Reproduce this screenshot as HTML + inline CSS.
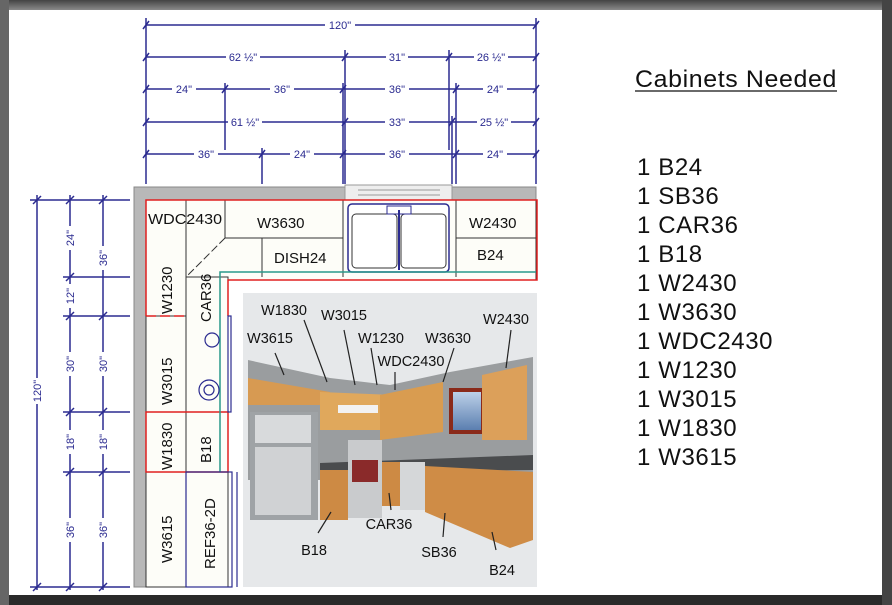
<!DOCTYPE html>
<html><head><meta charset="utf-8"><style>
html,body{margin:0;padding:0;width:892px;height:605px;overflow:hidden;background:#333}
svg{display:block}
.d{font-family:"Liberation Sans",sans-serif;font-size:11px;fill:#2b2b90}
.c{font-family:"Liberation Sans",sans-serif;font-size:15px;fill:#111}
.p{font-family:"Liberation Sans",sans-serif;font-size:14.5px;fill:#111}
.r{font-family:"Liberation Sans",sans-serif;font-size:24px;fill:#111;letter-spacing:0.6px}
</style></head><body>
<svg width="892" height="605" viewBox="0 0 892 605" xmlns="http://www.w3.org/2000/svg">
<defs>
<linearGradient id="gt" x1="0" y1="0" x2="0" y2="1"><stop offset="0" stop-color="#444"/><stop offset="1" stop-color="#8a8a8a"/></linearGradient>
<linearGradient id="sky" x1="0" y1="0" x2="0" y2="1"><stop offset="0" stop-color="#bcd0e8"/><stop offset="1" stop-color="#5b7fb0"/></linearGradient>
</defs>
<rect width="892" height="605" fill="#2a2a2a"/>
<rect x="0" y="0" width="892" height="10" fill="url(#gt)"/>
<rect x="0" y="0" width="9" height="605" fill="#666"/>
<rect x="882" y="0" width="10" height="605" fill="#444"/>
<rect x="9" y="10" width="873" height="585" fill="#fff"/>

<g stroke="#2b2b90" stroke-width="1.5" fill="none">
<line x1="146" y1="18" x2="146" y2="184"/><line x1="536" y1="18" x2="536" y2="184"/>
<line x1="345" y1="50" x2="345" y2="184"/><line x1="449" y1="50" x2="449" y2="150"/>
<line x1="225" y1="83" x2="225" y2="150"/><line x1="262" y1="148" x2="262" y2="184"/>
<line x1="343" y1="83" x2="343" y2="184"/><line x1="456" y1="83" x2="456" y2="184"/>
<line x1="452" y1="116" x2="452" y2="184"/>
<line x1="146" y1="25" x2="536" y2="25"/><line x1="146" y1="57" x2="536" y2="57"/>
<line x1="146" y1="89" x2="536" y2="89"/><line x1="146" y1="122" x2="536" y2="122"/>
<line x1="146" y1="154" x2="536" y2="154"/>
<path d="M143 29l6-8M533 29l6-8M143 61l6-8M342 61l6-8M446 61l6-8M533 61l6-8M143 93l6-8M222 93l6-8M340 93l6-8M453 93l6-8M533 93l6-8M143 126l6-8M342 126l6-8M449 126l6-8M533 126l6-8M143 158l6-8M259 158l6-8M340 158l6-8M453 158l6-8M533 158l6-8"/>
<line x1="37" y1="195" x2="37" y2="590"/><line x1="70" y1="195" x2="70" y2="590"/><line x1="103" y1="195" x2="103" y2="590"/>
<line x1="30" y1="200" x2="130" y2="200"/><line x1="63" y1="277" x2="130" y2="277"/><line x1="63" y1="316" x2="130" y2="316"/>
<line x1="63" y1="412" x2="130" y2="412"/><line x1="63" y1="472" x2="130" y2="472"/><line x1="30" y1="587" x2="130" y2="587"/>
<path d="M33 204l8-8M66 204l8-8M99 204l8-8M66 281l8-8M66 320l8-8M99 320l8-8M66 416l8-8M99 416l8-8M66 476l8-8M99 476l8-8M33 591l8-8M66 591l8-8M99 591l8-8"/>
</g>
<g class="d" text-anchor="middle">
<rect x="325" y="19" width="30" height="12" fill="#fff"/><text x="340" y="29">120"</text>
<rect x="226" y="51" width="34" height="12" fill="#fff"/><text x="243" y="61">62 ½"</text>
<rect x="386" y="51" width="22" height="12" fill="#fff"/><text x="397" y="61">31"</text>
<rect x="474" y="51" width="34" height="12" fill="#fff"/><text x="491" y="61">26 ½"</text>
<rect x="172" y="83" width="24" height="12" fill="#fff"/><text x="184" y="93">24"</text>
<rect x="270" y="83" width="24" height="12" fill="#fff"/><text x="282" y="93">36"</text>
<rect x="385" y="83" width="24" height="12" fill="#fff"/><text x="397" y="93">36"</text>
<rect x="483" y="83" width="24" height="12" fill="#fff"/><text x="495" y="93">24"</text>
<rect x="228" y="116" width="34" height="12" fill="#fff"/><text x="245" y="126">61 ½"</text>
<rect x="385" y="116" width="24" height="12" fill="#fff"/><text x="397" y="126">33"</text>
<rect x="477" y="116" width="34" height="12" fill="#fff"/><text x="494" y="126">25 ½"</text>
<rect x="194" y="148" width="24" height="12" fill="#fff"/><text x="206" y="158">36"</text>
<rect x="290" y="148" width="24" height="12" fill="#fff"/><text x="302" y="158">24"</text>
<rect x="385" y="148" width="24" height="12" fill="#fff"/><text x="397" y="158">36"</text>
<rect x="483" y="148" width="24" height="12" fill="#fff"/><text x="495" y="158">24"</text>
<g fill="#fff"><rect x="31" y="378" width="12" height="26"/><rect x="64" y="226" width="12" height="24"/><rect x="64" y="284" width="12" height="24"/><rect x="64" y="352" width="12" height="24"/><rect x="64" y="430" width="12" height="24"/><rect x="64" y="518" width="12" height="24"/><rect x="97" y="246" width="12" height="24"/><rect x="97" y="352" width="12" height="24"/><rect x="97" y="430" width="12" height="24"/><rect x="97" y="518" width="12" height="24"/></g>
<text transform="translate(41,391) rotate(-90)">120"</text>
<text transform="translate(74,238) rotate(-90)">24"</text>
<text transform="translate(74,296) rotate(-90)">12"</text>
<text transform="translate(74,364) rotate(-90)">30"</text>
<text transform="translate(74,442) rotate(-90)">18"</text>
<text transform="translate(74,530) rotate(-90)">36"</text>
<text transform="translate(107,258) rotate(-90)">36"</text>
<text transform="translate(107,364) rotate(-90)">30"</text>
<text transform="translate(107,442) rotate(-90)">18"</text>
<text transform="translate(107,530) rotate(-90)">36"</text>
</g>

<polygon points="134,187 536,187 536,200 146,200 146,587 134,587" fill="#b8b8b8" stroke="#888"/>
<rect x="345" y="185" width="107" height="15" fill="#eee" stroke="#999"/>
<line x1="358" y1="190" x2="440" y2="190" stroke="#999"/><line x1="358" y1="195" x2="440" y2="195" stroke="#999"/>
<g fill="#fdfdf8" stroke="#333" stroke-width="1">
<rect x="146" y="200" width="390" height="80"/>
<rect x="146" y="200" width="40" height="387"/>
<rect x="186" y="277" width="42" height="310"/>
</g>
<g stroke="#333" fill="none">
<line x1="225" y1="200" x2="225" y2="238"/><line x1="225" y1="238" x2="343" y2="238"/>
<line x1="262" y1="238" x2="262" y2="277"/><line x1="343" y1="200" x2="343" y2="277"/>
<line x1="456" y1="200" x2="456" y2="277"/><line x1="456" y1="238" x2="536" y2="238"/>
<line x1="225" y1="238" x2="186" y2="277" stroke-dasharray="8,3"/>
<line x1="146" y1="316" x2="186" y2="316"/><line x1="146" y1="412" x2="228" y2="412"/>
<line x1="146" y1="472" x2="228" y2="472"/>
</g>
<rect x="348" y="204" width="101" height="68" rx="4" fill="#fff" stroke="#2b2b90" stroke-width="1.5"/>
<rect x="352" y="214" width="45" height="54" rx="4" fill="#fff" stroke="#333"/><rect x="401" y="214" width="45" height="54" rx="4" fill="#fff" stroke="#333"/>
<rect x="387" y="206" width="24" height="8" fill="#fff" stroke="#2b2b90"/>
<line x1="399" y1="210" x2="399" y2="270" stroke="#2b2b90" stroke-width="2"/>
<g fill="none" stroke="#e02020" stroke-width="1.5">
<polyline points="146,316 146,200 537,200 537,280 228,280 228,316"/>
<rect x="146" y="412" width="82" height="60"/>
<polyline points="146,316 186,316" stroke-dasharray="10,4"/>
</g>
<g fill="none" stroke="#2a9a8a" stroke-width="1.5"><polyline points="220,472 220,272 536,272"/></g>
<g fill="none" stroke="#2b2b90" stroke-width="1.2">
<rect x="186" y="472" width="46" height="115"/><line x1="237" y1="472" x2="237" y2="587"/>
<rect x="228" y="316" width="3" height="96"/>
<circle cx="212" cy="340" r="7"/><circle cx="209" cy="390" r="10"/><circle cx="209" cy="390" r="5"/>
</g>
<g class="c">
<text x="148" y="224" textLength="74" lengthAdjust="spacingAndGlyphs">WDC2430</text><text x="257" y="228">W3630</text>
<text x="274" y="263">DISH24</text><text x="469" y="228">W2430</text><text x="477" y="260">B24</text>
<text transform="translate(211,322) rotate(-90)">CAR36</text>
<text transform="translate(172,314) rotate(-90)">W1230</text>
<text transform="translate(172,405) rotate(-90)">W3015</text>
<text transform="translate(172,470) rotate(-90)">W1830</text>
<text transform="translate(211,463) rotate(-90)">B18</text>
<text transform="translate(172,563) rotate(-90)">W3615</text>
<text transform="translate(215,569) rotate(-90)">REF36-2D</text>
</g>

<rect x="243" y="293" width="294" height="294" fill="#e6e8ea"/>
<polygon points="248,360 330,378 390,385 450,372 533,357 533,480 248,480" fill="#9a9d9f"/>
<polygon points="248,378 330,392 330,405 248,405" fill="#d79a52"/>
<polygon points="320,392 395,395 395,430 320,430" fill="#e0a85c"/>
<polygon points="380,395 443,382 443,432 380,440" fill="#d99c50"/>
<rect x="338" y="405" width="40" height="8" fill="#f2f2f2"/>
<rect x="449" y="388" width="36" height="46" fill="#8a2a1a"/><rect x="453" y="392" width="28" height="38" fill="url(#sky)"/>
<polygon points="482,375 527,365 527,440 482,440" fill="#dca05a"/>
<rect x="250" y="412" width="68" height="108" fill="#9fa3a6"/><rect x="255" y="415" width="56" height="28" fill="#d8dadc"/><rect x="255" y="447" width="56" height="68" fill="#d0d2d4"/>
<polygon points="320,463 533,455 533,470 320,472" fill="#4a4c4e"/>
<rect x="320" y="470" width="28" height="50" fill="#cd8a44"/>
<rect x="348" y="440" width="34" height="78" fill="#c9cbcd"/><rect x="352" y="460" width="26" height="22" fill="#8a2a2a"/>
<rect x="382" y="462" width="18" height="44" fill="#cd8a44"/>
<rect x="400" y="462" width="25" height="48" fill="#d5d7d9"/>
<polygon points="425,466 533,472 533,540 510,548 425,512" fill="#cf8c46"/>
<g stroke="#222" stroke-width="1.2">
<line x1="275" y1="353" x2="284" y2="375"/><line x1="304" y1="320" x2="327" y2="382"/>
<line x1="344" y1="330" x2="355" y2="385"/><line x1="371" y1="348" x2="377" y2="385"/>
<line x1="395" y1="372" x2="395" y2="390"/><line x1="454" y1="348" x2="443" y2="382"/>
<line x1="511" y1="330" x2="506" y2="368"/><line x1="318" y1="533" x2="331" y2="512"/>
<line x1="391" y1="510" x2="389" y2="493"/><line x1="443" y1="537" x2="445" y2="513"/>
<line x1="496" y1="550" x2="492" y2="532"/>
</g>
<g class="p" text-anchor="middle">
<text x="284" y="315">W1830</text><text x="344" y="320">W3015</text><text x="270" y="343">W3615</text>
<text x="381" y="343">W1230</text><text x="448" y="343">W3630</text><text x="411" y="366">WDC2430</text>
<text x="506" y="324">W2430</text><text x="389" y="529">CAR36</text><text x="314" y="555">B18</text>
<text x="439" y="557">SB36</text><text x="502" y="575">B24</text>
</g>

<text class="r" x="635" y="87" textLength="202" lengthAdjust="spacingAndGlyphs">Cabinets Needed</text>
<line x1="635" y1="91" x2="837" y2="91" stroke="#111" stroke-width="1.2"/>
<g class="r">
<text x="637" y="175">1 B24</text><text x="637" y="204">1 SB36</text><text x="637" y="233">1 CAR36</text>
<text x="637" y="262">1 B18</text><text x="637" y="291">1 W2430</text><text x="637" y="320">1 W3630</text>
<text x="637" y="349">1 WDC2430</text><text x="637" y="378">1 W1230</text><text x="637" y="407">1 W3015</text>
<text x="637" y="436">1 W1830</text><text x="637" y="465">1 W3615</text>
</g>
</svg>
</body></html>
